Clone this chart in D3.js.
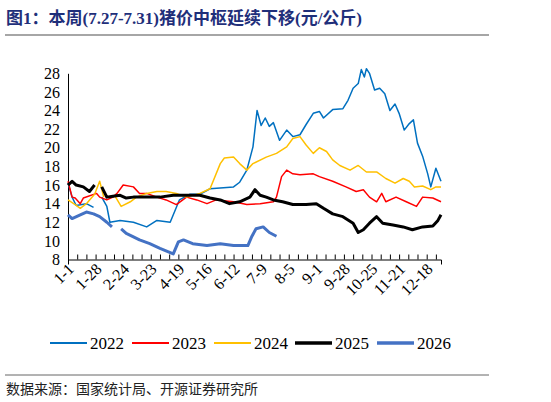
<!DOCTYPE html>
<html><head><meta charset="utf-8">
<script src="https://cdn.jsdelivr.net/npm/d3@7"></script>
<style>body{margin:0;background:#fff} svg text{font-family:"Liberation Serif","Times New Roman","DejaVu Serif",serif}</style>
</head><body>
<script>
// [day of year, price]; null = no data
var s2022=[[0,16.2],[4,14.7],[8,13.8],[18,14],[25,13.6],[27,null],[33,14.7],[38,13.7],[41,12],[51,12.2],[64,12],[77,11.5],[87,12.2],[100,12],[109,14.4],[119,15],[129,15],[139,15.6],[162,15.8],[168,16.3],[175,17.6],[181,20.1],[185,24],[189,22.4],[193,23.2],[197,22.3],[201,22.7],[207,20.8],[214,21.9],[220,21.2],[227,21.4],[233,22.5],[240,23.7],[246,23.9],[250,23.2],[259,24.1],[269,24.2],[274,25.1],[279,26.4],[284,26.9],[287,28.4],[290,27.6],[292,28.5],[295,28],[300,26.2],[305,26.4],[310,25.8],[315,24],[320,24.7],[324,23.7],[329,21.9],[334,22.6],[338,23],[342,20.5],[347,19.1],[352,17.2],[355,15.8],[360,17.8],[365,16.4]];
var s2023=[[0,16.4],[4,14.7],[7,14.6],[12,14],[15,14.6],[28,15.1],[31,14.7],[38,14.4],[44,14.7],[48,15.1],[54,16],[64,15.8],[70,15.1],[77,15.1],[87,14.7],[96,14.4],[106,13.9],[116,14.7],[126,14.4],[136,14],[145,14.4],[162,14.2],[175,13.9],[188,14],[201,14.2],[204,14.7],[209,16.9],[214,17.6],[220,17.2],[227,17.1],[240,17.2],[246,16.9],[259,16.4],[272,15.8],[282,15.3],[289,15.5],[295,14.7],[302,14.2],[307,15.1],[311,14.2],[321,14.7],[331,14.2],[341,13.7],[347,14.7],[357,14.6],[365,14.2]];
var s2024=[[0,14.4],[7,13.9],[12,13.5],[18,14],[26,15],[31,16.4],[35,14.7],[38,null],[46,14.8],[52,13.7],[61,14.2],[67,14.7],[77,15.1],[87,15.3],[96,15.3],[106,15.1],[116,14.7],[129,15.1],[139,15.6],[149,18.3],[153,18.9],[162,19],[168,18.3],[175,17.6],[181,18.3],[194,19],[204,19.4],[214,20.1],[220,21],[227,21.2],[233,20.3],[240,19.4],[246,20],[253,19.6],[259,18.7],[266,18.1],[276,17.6],[284,18.1],[292,17.4],[302,17.4],[311,16.7],[320,16.2],[328,16.7],[334,16.4],[339,15.8],[347,15.9],[355,15.5],[360,15.8],[365,15.8]];
var s2025=[[0,16],[4,16.4],[8,16],[15,15.8],[21,15.3],[26,16],[28,null],[33,15.8],[38,14.7],[44,14.8],[51,14.9],[57,14.6],[64,14.7],[77,14.7],[90,14.7],[103,14.9],[116,14.9],[129,14.9],[139,14.6],[149,14.4],[158,14],[168,14.2],[178,14.7],[183,15.5],[188,14.9],[194,14.7],[201,14.4],[210,14.2],[220,13.9],[233,13.9],[243,14],[250,13.5],[259,12.9],[269,12.6],[279,11.9],[284,10.9],[289,11.2],[295,11.9],[302,12.6],[308,11.9],[318,11.7],[328,11.5],[337,11.2],[347,11.5],[357,11.6],[362,12.2],[365,12.8]];
var s2026=[[0,12.8],[4,12.4],[12,12.8],[18,13.1],[25,12.9],[31,12.6],[38,12],[43,11.5],[47,null],[52,11.3],[57,10.8],[70,10.1],[80,9.7],[90,9.2],[103,8.6],[108,9.9],[113,10.1],[122,9.7],[136,9.5],[149,9.7],[162,9.5],[176,9.5],[180,10.5],[184,11.3],[191,11.5],[197,10.9],[204,10.5]];
var tickLabels=["1-1","1-28","2-24","3-23","4-19","5-16","6-12","7-9","8-5","9-1","9-28","10-25","11-21","12-18"];
var yTicks=[8,10,12,14,16,18,20,22,24,26,28];
var series=[
  {name:"2022",data:s2022,color:"#0070c0",w:1.5},
  {name:"2023",data:s2023,color:"#ff0000",w:1.5},
  {name:"2024",data:s2024,color:"#ffc000",w:1.5},
  {name:"2025",data:s2025,color:"#000000",w:3},
  {name:"2026",data:s2026,color:"#4472c4",w:3}
];
var serif='"Liberation Serif","Times New Roman","DejaVu Serif",serif';

var svg=d3.select("body").append("svg").attr("width",551).attr("height",402);

svg.append("text").attr("x",6).attr("y",24).attr("fill","#1f2f7a")
  .attr("font-size",17).attr("font-weight","bold")
  .style("font-family",'"Liberation Serif","Noto Sans CJK SC",serif')
  .text("图1：本周(7.27-7.31)猪价中枢延续下移(元/公斤)");
svg.append("line").attr("x1",5).attr("x2",489).attr("y1",35).attr("y2",35).attr("stroke","#888").attr("stroke-width",1.5);
svg.append("line").attr("x1",5).attr("x2",489).attr("y1",375).attr("y2",375).attr("stroke","#666").attr("stroke-width",1);

var x=d3.scaleLinear().domain([0,365]).range([68,441]);
var y=d3.scaleLinear().domain([8,28]).range([259.5,73.3]);

var xAxis=svg.append("g").attr("transform","translate(0,259.5)")
  .call(d3.axisBottom(x).tickValues(d3.range(0,366,9)).tickSize(5).tickFormat(""));
xAxis.selectAll("line").attr("transform","translate(0,-5)");
tickLabels.forEach(function(t,i){
  var xx=x(i*27);
  svg.append("text").attr("transform","translate("+(xx+7)+",270) rotate(-45)")
    .attr("text-anchor","end").attr("font-size",16).attr("fill","#000")
    .style("font-family",serif).text(t);
});
var yAxis=svg.append("g").attr("transform","translate(68,0)")
  .call(d3.axisLeft(y).tickValues(yTicks).tickSize(0).tickPadding(8));
yAxis.selectAll("text").attr("font-size",16).style("font-family",serif).attr("fill","#000");
svg.selectAll(".domain").attr("stroke","#000");

var line=d3.line().defined(function(d){return d[1]!==null;})
  .x(function(d){return x(d[0]);}).y(function(d){return y(d[1]);});
series.forEach(function(s){
  svg.append("path").datum(s.data).attr("d",line).attr("fill","none")
    .attr("stroke",s.color).attr("stroke-width",s.w).attr("stroke-linejoin","round");
});

var lx=[50,132,214,295,377];
series.forEach(function(s,i){
  svg.append("line").attr("x1",lx[i]).attr("x2",lx[i]+37).attr("y1",343).attr("y2",343)
    .attr("stroke",s.color).attr("stroke-width",s.w+0.5);
  svg.append("text").attr("x",lx[i]+40).attr("y",349).attr("font-size",17)
    .style("font-family",serif).text(s.name);
});
svg.append("text").attr("x",6).attr("y",394).attr("font-size",14)
  .style("font-family",'"Noto Sans CJK SC",sans-serif').attr("fill","#222")
  .text("数据来源：国家统计局、开源证券研究所");
</script>
</body></html>
